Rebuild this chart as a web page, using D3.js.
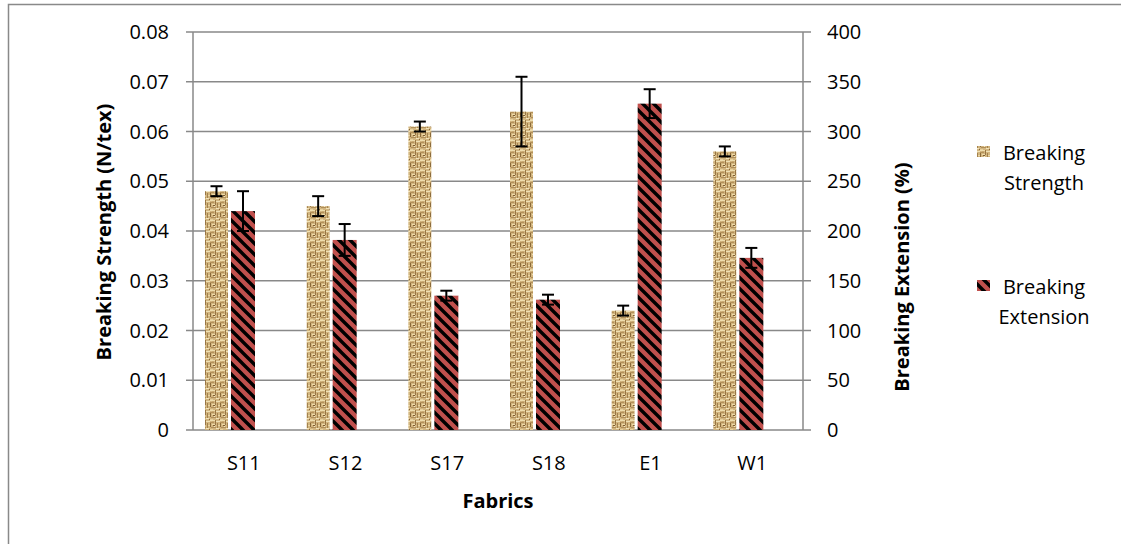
<!DOCTYPE html>
<html><head><meta charset="utf-8">
<script src="https://cdn.jsdelivr.net/npm/d3@7"></script>
<style>body{margin:0;background:#fff}svg{display:block}text{font-family:"Open Sans",sans-serif;fill:#000}</style>
</head><body><svg id="c" width="1121" height="544"></svg>
<script>
const categories = ["S11","S12","S17","S18","E1","W1"];
const strength = [0.048,0.045,0.061,0.064,0.024,0.056];
const strengthErr = [0.001,0.002,0.001,0.007,0.001,0.001];
const extension = [220,191,135,131,328,173];
const extensionErr = [20,16,5,5,14.5,10];
const leftTicks = [0,0.01,0.02,0.03,0.04,0.05,0.06,0.07,0.08];
const rightTicks = [0,50,100,150,200,250,300,350,400];
const seriesNames = ["Breaking Strength","Breaking Extension"];

const svg = d3.select("#c");
const L=193, R=803, T=32, B=430;
const grey="#898989";

// patterns
const defs = svg.append("defs");
const burlap = defs.append("pattern").attr("id","burlap").attr("patternUnits","userSpaceOnUse").attr("width",10).attr("height",10);
burlap.append("rect").attr("width",10).attr("height",10).attr("fill","#d2b57f");
const tile = [
 [0,0,5,1,"#efdeae"],[5,0,1,5,"#987644"],[6,1,4,1,"#f0e1b4"],[0,2,4,1,"#b4915a"],
 [0,3,1,4,"#8c6b3a"],[2,4,3,1,"#eddaa8"],[7,3,1,5,"#a4824d"],[1,7,5,1,"#b08e58"],
 [3,5,2,1,"#7d5d30"],[6,8,3,1,"#f2e4bb"],[0,9,3,1,"#e6d09c"],[9,9,1,1,"#86663a"],
 [8,5,2,1,"#e9d6a4"],[2,1,2,1,"#c9aa72"],[4,6,1,1,"#f4e8c4"]];
tile.forEach(t=>burlap.append("rect").attr("x",t[0]).attr("y",t[1]).attr("width",t[2]).attr("height",t[3]).attr("fill",t[4]));
const stripe = defs.append("pattern").attr("id","stripe").attr("patternUnits","userSpaceOnUse").attr("width",11).attr("height",11);
stripe.append("rect").attr("width",11).attr("height",11).attr("fill","#c0504d");
stripe.append("path").attr("d","M-2,-2L13,13M-2,9L2,13M9,-2L13,2").attr("stroke","#000").attr("stroke-width",3.4);

// outer border
svg.append("rect").attr("x",8.5).attr("y",4.5).attr("width",1130).attr("height",560).attr("fill","none").attr("stroke",grey).attr("stroke-width",1.5);

const yL = d3.scaleLinear().domain([0,0.08]).range([B,T]);
const yR = d3.scaleLinear().domain([0,400]).range([B,T]);
const x0 = d3.scaleBand().domain(categories).range([L,R]);
const x1 = d3.scaleBand().domain(["s","e","h"]).range([12,12+78]);

// gridlines
svg.append("g").selectAll("line").data(leftTicks).join("line")
 .attr("x1",L-7).attr("x2",R).attr("y1",d=>yL(d)).attr("y2",d=>yL(d))
 .attr("stroke",grey).attr("stroke-width",1.5);
// right ticks
svg.append("g").selectAll("line").data(rightTicks).join("line")
 .attr("x1",R).attr("x2",R+8).attr("y1",d=>yR(d)).attr("y2",d=>yR(d))
 .attr("stroke",grey).attr("stroke-width",1.5);
// axes lines
svg.append("line").attr("x1",L).attr("x2",L).attr("y1",T).attr("y2",B).attr("stroke",grey).attr("stroke-width",1.5);
svg.append("line").attr("x1",R).attr("x2",R).attr("y1",T).attr("y2",B).attr("stroke",grey).attr("stroke-width",1.5);

// tick labels
svg.append("g").selectAll("text").data(leftTicks).join("text")
 .attr("x",L-24).attr("y",d=>yL(d)+7).attr("text-anchor","end").attr("font-size",20)
 .text(d=>d===0?"0":d.toFixed(2));
svg.append("g").selectAll("text").data(rightTicks).join("text")
 .attr("x",R+24).attr("y",d=>yR(d)+7).attr("text-anchor","start").attr("font-size",20)
 .text(d=>d);
svg.append("g").selectAll("text").data(categories).join("text")
 .attr("x",d=>x0(d)+x0.bandwidth()/2).attr("y",470).attr("text-anchor","middle").attr("font-size",20)
 .text(d=>d);

// bars
const bw = x1.bandwidth()-2;
const g = svg.append("g");
categories.forEach((c,i)=>{
  const xs = x0(c)+x1("s"), xe = x0(c)+x1("e");
  g.append("rect").attr("x",xs).attr("y",yL(strength[i])).attr("width",bw-1).attr("height",B-yL(strength[i])).attr("fill","url(#burlap)");
  g.append("rect").attr("x",xe).attr("y",yR(extension[i])).attr("width",bw).attr("height",B-yR(extension[i])).attr("fill","url(#stripe)");
});
// error bars
const eb = svg.append("g").attr("stroke","#000").attr("stroke-width",2);
function errBar(cx, yTop, yBot){
  eb.append("line").attr("x1",cx).attr("x2",cx).attr("y1",yTop).attr("y2",yBot);
  eb.append("line").attr("x1",cx-6).attr("x2",cx+6).attr("y1",yTop).attr("y2",yTop);
  eb.append("line").attr("x1",cx-6).attr("x2",cx+6).attr("y1",yBot).attr("y2",yBot);
}
categories.forEach((c,i)=>{
  const cs = x0(c)+x1("s")+(bw-1)/2, ce = x0(c)+x1("e")+bw/2;
  errBar(cs, yL(strength[i]+strengthErr[i]), yL(strength[i]-strengthErr[i]));
  errBar(ce, yR(extension[i]+extensionErr[i]), yR(extension[i]-extensionErr[i]));
});

// axis titles
svg.append("text").attr("transform","translate(111,232) rotate(-90)").attr("text-anchor","middle")
 .attr("font-size",20).attr("font-weight","bold").text("Breaking Strength (N/tex)");
svg.append("text").attr("transform","translate(909,277) rotate(-90)").attr("text-anchor","middle")
 .attr("font-size",20).attr("font-weight","bold").text("Breaking Extension (%)");
svg.append("text").attr("x",498).attr("y",508).attr("text-anchor","middle")
 .attr("font-size",20).attr("font-weight","bold").text("Fabrics");

// legend
const leg = [{fill:"url(#burlap)",y:146,lines:seriesNames[0].split(" ")},{fill:"url(#stripe)",y:280,lines:seriesNames[1].split(" ")}];
leg.forEach(l=>{
  svg.append("rect").attr("x",977).attr("y",l.y).attr("width",13).attr("height",11).attr("fill",l.fill);
  l.lines.forEach((t,k)=>svg.append("text").attr("x",1044).attr("y",l.y+14+k*30).attr("text-anchor","middle").attr("font-size",20).text(t));
});
</script></body></html>
